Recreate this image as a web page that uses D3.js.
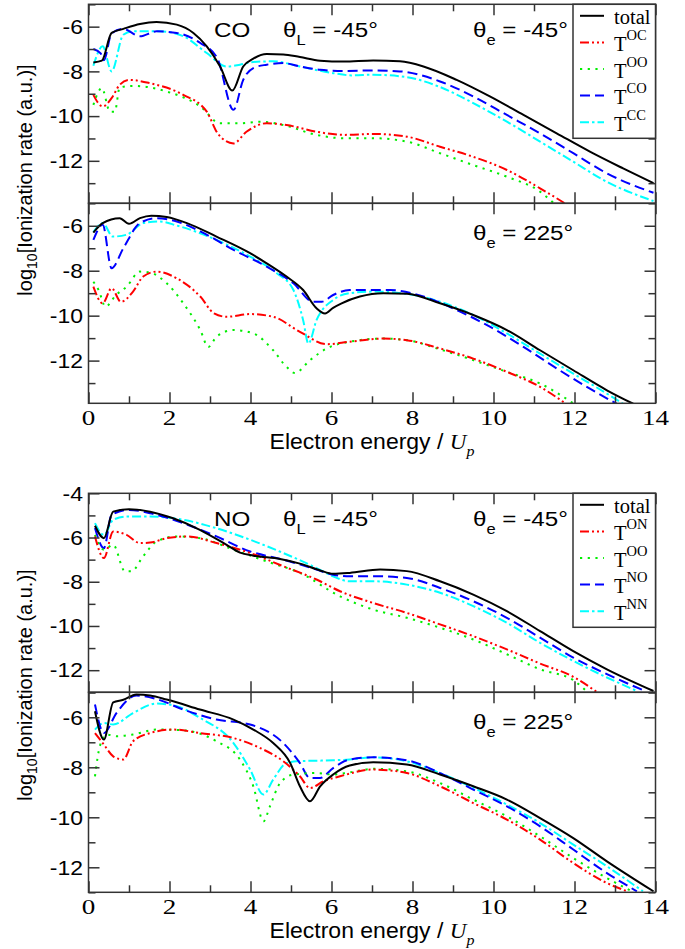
<!DOCTYPE html>
<html><head><meta charset="utf-8">
<script src="https://cdn.jsdelivr.net/npm/d3@7"></script>
<style>body{margin:0;background:#fff}svg{display:block}</style>
</head><body><svg id="c" width="685" height="949"></svg>
<script>
// ---------------- DATA ----------------
const xTicks = [0, 2, 4, 6, 8, 10, 12, 14];
const xMinor = [1, 3, 5, 7, 9, 11, 13];
const yTicksCO = [-12, -10, -8, -6];
const yMinorCO = [-13, -11, -9, -7, -5];
const yTicksNOtop = [-12, -10, -8, -6, -4];
const yTicksNObot = [-12, -10, -8, -6];
const yMinorNO = [-13, -11, -9, -7, -5];
const legendCO = ["total", "OC", "OO", "CO", "CC"];
const legendNO = ["total", "ON", "OO", "NO", "NN"];

// CO, theta_e = -45
const co1_total = [[0.12,-7.6],[0.33,-7.52],[0.57,-6.28],[0.86,-6.1],[1.27,-5.88],[1.68,-5.79],[2.18,-5.91],[2.59,-6.28],[2.92,-6.88],[3.25,-7.78],[3.55,-8.86],[3.82,-7.78],[4.07,-7.43],[4.4,-7.22],[4.81,-7.24],[5.22,-7.36],[5.72,-7.52],[6.3,-7.56],[7.03,-7.51],[7.69,-7.55],[8.27,-7.78],[9.09,-8.38],[9.91,-9.12],[10.74,-9.95],[11.56,-10.77],[12.38,-11.59],[13.2,-12.34],[13.95,-13.0]];
const co1_OC = [[0.12,-9.05],[0.35,-9.57],[0.57,-9.2],[0.77,-8.6],[1.0,-8.38],[1.5,-8.52],[2.34,-9.05],[2.92,-9.8],[3.2,-10.8],[3.58,-11.22],[3.9,-10.7],[4.4,-10.32],[4.89,-10.4],[5.63,-10.7],[6.3,-10.84],[7.03,-10.8],[7.86,-10.92],[8.68,-11.37],[9.5,-11.82],[10.33,-12.41],[11.15,-13.23],[11.85,-14.0]];
const co1_OO = [[0.12,-9.5],[0.33,-8.75],[0.53,-9.8],[0.65,-9.8],[0.77,-8.72],[1.1,-8.65],[1.93,-8.9],[2.76,-9.57],[3.25,-10.32],[3.74,-10.32],[4.24,-10.25],[4.81,-10.4],[5.63,-10.84],[6.3,-10.99],[7.03,-10.99],[7.86,-11.14],[8.68,-11.66],[9.5,-12.19],[10.33,-12.71],[11.15,-13.38],[11.55,-14.0]];
const co1_CO = [[0.12,-7.0],[0.3,-7.2],[0.38,-7.5],[0.57,-6.3],[0.86,-6.1],[1.27,-6.43],[1.68,-6.21],[2.18,-6.28],[2.76,-6.73],[3.18,-7.41],[3.58,-9.72],[3.82,-8.38],[4.07,-7.85],[4.4,-7.7],[4.81,-7.63],[5.22,-7.78],[5.72,-7.93],[6.3,-7.98],[7.03,-7.96],[7.69,-8.0],[8.68,-8.45],[9.5,-9.12],[10.33,-9.95],[11.15,-10.77],[11.97,-11.66],[12.8,-12.56],[13.95,-13.43]];
const co1_CC = [[0.12,-7.75],[0.35,-6.88],[0.57,-8.0],[0.86,-6.36],[1.1,-6.21],[1.76,-6.21],[2.34,-6.43],[2.92,-7.18],[3.41,-7.78],[3.74,-7.7],[4.07,-7.58],[4.56,-7.55],[5.22,-7.78],[6.04,-8.08],[6.5,-8.18],[7.03,-8.15],[7.86,-8.26],[8.68,-8.7],[9.5,-9.42],[10.33,-10.25],[11.15,-11.14],[11.97,-12.04],[12.8,-12.94],[13.95,-13.8]];

// CO, theta_e = 225
const co2_total = [[0.12,-6.3],[0.35,-5.88],[0.77,-5.66],[1.0,-5.91],[1.27,-5.66],[1.55,-5.55],[1.93,-5.61],[2.43,-5.88],[3.16,-6.48],[3.99,-7.22],[4.4,-7.67],[4.89,-8.26],[5.3,-8.86],[5.63,-9.67],[5.84,-9.9],[6.04,-9.65],[6.25,-9.45],[6.7,-9.15],[7.28,-9.0],[7.86,-9.03],[8.68,-9.45],[9.5,-9.97],[10.33,-10.64],[11.15,-11.54],[11.97,-12.43],[12.8,-13.32],[13.45,-13.92]];
const co2_OC = [[0.12,-8.71],[0.35,-9.45],[0.57,-8.78],[0.8,-9.38],[1.1,-8.93],[1.35,-8.26],[1.68,-8.04],[2.18,-8.34],[2.76,-9.15],[3.1,-9.9],[3.41,-10.05],[3.99,-9.93],[4.56,-10.05],[5.22,-10.72],[5.88,-11.27],[6.45,-11.16],[7.28,-11.02],[7.86,-11.09],[8.68,-11.46],[9.5,-11.91],[10.33,-12.5],[11.15,-13.17],[11.85,-14.0]];
const co2_OO = [[0.12,-8.49],[0.25,-8.86],[0.42,-9.6],[0.68,-9.08],[0.94,-8.71],[1.27,-8.04],[1.55,-8.1],[1.93,-8.56],[2.34,-9.45],[2.76,-10.64],[2.96,-11.39],[3.16,-10.94],[3.58,-10.64],[4.07,-10.79],[4.56,-11.54],[4.9,-12.3],[5.1,-12.55],[5.47,-11.98],[5.88,-11.46],[6.45,-11.16],[7.28,-11.02],[7.86,-11.09],[8.68,-11.5],[9.5,-11.98],[10.33,-12.5],[11.15,-13.02],[12.05,-14.0]];
const co2_CO = [[0.12,-6.63],[0.35,-5.96],[0.57,-7.89],[0.86,-7.0],[1.27,-5.88],[1.68,-5.66],[2.18,-5.81],[2.76,-6.25],[3.58,-7.07],[4.4,-7.82],[5.06,-8.56],[5.55,-9.38],[5.76,-9.38],[6.04,-9.08],[6.45,-8.86],[7.03,-8.86],[7.45,-8.86],[8.27,-9.15],[9.09,-9.75],[9.91,-10.49],[10.74,-11.39],[11.56,-12.35],[12.38,-13.25],[13.04,-13.92]];
const co2_CC = [[0.12,-6.28],[0.35,-5.88],[0.6,-6.48],[0.94,-6.4],[1.35,-5.88],[1.76,-5.81],[2.18,-5.99],[3.16,-6.63],[3.99,-7.37],[4.65,-8.11],[5.06,-8.86],[5.3,-10.2],[5.43,-11.24],[5.63,-10.2],[6.04,-9.3],[6.45,-9.0],[7.03,-8.93],[7.86,-9.03],[8.68,-9.38],[9.5,-9.97],[10.33,-10.79],[11.15,-11.69],[11.97,-12.58],[12.8,-13.47],[13.2,-13.92]];

// NO, theta_e = -45
const no1_total = [[0.16,-5.47],[0.38,-6.03],[0.61,-4.83],[1.0,-4.72],[1.52,-4.83],[2.09,-5.13],[2.75,-5.65],[3.41,-6.33],[3.74,-6.68],[4.07,-6.82],[4.73,-6.97],[5.22,-7.18],[5.72,-7.49],[6.04,-7.64],[6.45,-7.6],[7.2,-7.45],[7.86,-7.52],[8.68,-7.98],[9.5,-8.58],[10.33,-9.33],[11.15,-10.23],[11.97,-11.14],[12.8,-11.96],[13.95,-12.94]];
const no1_ON = [[0.16,-5.95],[0.38,-6.93],[0.61,-5.73],[0.94,-5.88],[1.27,-6.25],[1.52,-6.23],[1.93,-6.03],[2.43,-5.95],[3.16,-6.25],[3.99,-6.7],[4.81,-7.3],[5.63,-7.9],[6.21,-8.43],[7.03,-8.96],[7.86,-9.41],[8.68,-9.93],[9.5,-10.46],[10.33,-11.06],[11.15,-11.7],[11.97,-12.3],[12.6,-13.05]];
const no1_OO = [[0.16,-5.88],[0.38,-6.55],[0.61,-6.33],[0.9,-7.53],[1.06,-7.53],[1.35,-6.85],[1.68,-6.18],[2.18,-5.95],[2.76,-6.03],[3.58,-6.55],[4.4,-7.08],[5.22,-7.6],[6.21,-8.66],[7.03,-9.26],[7.86,-9.63],[8.68,-10.08],[9.5,-10.61],[10.33,-11.28],[11.15,-11.96],[11.97,-12.45],[12.35,-13.05]];
const no1_NO = [[0.16,-5.57],[0.38,-6.48],[0.57,-4.98],[1.0,-4.75],[1.52,-4.9],[2.34,-5.35],[3.16,-5.95],[3.99,-6.63],[4.81,-7.0],[5.63,-7.45],[6.04,-7.68],[6.45,-7.75],[7.03,-7.75],[7.86,-7.83],[8.68,-8.28],[9.5,-8.88],[10.33,-9.63],[11.15,-10.53],[11.97,-11.43],[12.8,-12.18],[13.74,-12.94]];
const no1_NN = [[0.16,-5.35],[0.38,-5.88],[0.61,-5.2],[0.94,-5.05],[1.52,-5.05],[2.34,-5.2],[3.16,-5.58],[3.99,-6.1],[4.81,-6.7],[5.63,-7.38],[6.04,-7.76],[6.45,-7.98],[7.03,-7.98],[7.86,-8.13],[8.68,-8.5],[9.5,-9.1],[10.33,-9.86],[11.15,-10.76],[11.97,-11.58],[12.8,-12.33],[13.54,-12.94]];

// NO, theta_e = 225
const no2_total = [[0.16,-5.76],[0.38,-6.89],[0.61,-5.4],[0.86,-5.3],[1.18,-5.09],[1.52,-5.13],[1.93,-5.29],[2.75,-5.69],[3.58,-6.09],[4.07,-6.49],[4.56,-7.03],[4.98,-7.83],[5.22,-8.76],[5.47,-9.36],[5.72,-8.76],[6.04,-8.29],[6.45,-7.93],[7.03,-7.8],[7.86,-7.89],[8.68,-8.29],[9.5,-8.76],[10.33,-9.29],[11.15,-10.03],[11.97,-10.83],[12.8,-11.76],[13.95,-12.96]];
const no2_ON = [[0.16,-6.63],[0.38,-7.09],[0.61,-7.56],[0.86,-7.69],[1.1,-6.96],[1.52,-6.63],[2.09,-6.49],[2.75,-6.63],[3.58,-6.83],[4.24,-7.23],[4.81,-7.76],[5.22,-8.36],[5.47,-8.83],[5.8,-8.56],[6.21,-8.36],[7.03,-8.09],[7.86,-8.23],[8.68,-8.76],[9.5,-9.43],[10.33,-10.09],[11.15,-10.89],[11.97,-11.83],[12.8,-12.63],[13.3,-12.96]];
const no2_OO = [[0.16,-8.36],[0.28,-7.16],[0.45,-6.69],[0.69,-6.76],[1.1,-6.69],[1.68,-6.49],[2.34,-6.52],[3.16,-6.96],[3.74,-7.69],[4.07,-8.76],[4.32,-10.16],[4.48,-9.56],[4.73,-8.63],[5.06,-8.29],[5.63,-8.23],[6.04,-8.29],[6.45,-8.2],[7.03,-8.06],[7.86,-8.16],[8.68,-8.63],[9.5,-9.29],[10.33,-9.96],[11.15,-10.76],[11.97,-11.63],[12.8,-12.43],[13.42,-12.96]];
const no2_NO = [[0.16,-5.49],[0.38,-6.63],[0.69,-5.83],[1.18,-5.13],[1.68,-5.27],[2.34,-5.69],[3.16,-6.09],[3.99,-6.29],[4.81,-7.03],[5.22,-7.83],[5.47,-8.43],[5.72,-8.43],[6.04,-8.03],[6.45,-7.69],[7.03,-7.6],[7.86,-7.72],[8.68,-8.23],[9.5,-8.89],[10.33,-9.56],[11.15,-10.36],[11.97,-11.29],[12.8,-12.23],[13.54,-12.96]];
const no2_NN = [[0.16,-6.49],[0.38,-6.23],[0.61,-6.29],[1.1,-5.83],[1.68,-5.45],[2.18,-5.56],[2.76,-6.03],[3.58,-7.03],[3.99,-8.09],[4.32,-9.09],[4.56,-8.49],[4.89,-7.83],[5.14,-7.76],[6.04,-7.72],[6.45,-7.69],[7.03,-7.6],[7.86,-7.76],[8.68,-8.23],[9.5,-8.82],[10.33,-9.49],[11.15,-10.23],[11.97,-11.09],[12.8,-11.96],[13.69,-12.96]];

// ---------------- STYLE ----------------
const styles = [
  {color: "#000000", dash: null},
  {color: "#ff0000", dash: "9,3,2,3,2,3"},
  {color: "#00ee00", dash: "2.2,5.5"},
  {color: "#0000ff", dash: "10,5"},
  {color: "#00ffff", dash: "9,3,2.5,3"}
];
const SANS = "'Liberation Sans', Arial, Helvetica, sans-serif";
const SERIF = "'Liberation Serif', 'Times New Roman', serif";
const AX = "#333";

const svg = d3.select("#c");
const X0 = 88.5, X1 = 655.5;
const x = d3.scaleLinear().domain([0, 14]).range([X0, X1]);

const panels = [
  {top: 4.3, bot: 203.3, dom: [-13.9, -5], major: yTicksCO, minor: yMinorCO, data: [co1_total, co1_OC, co1_OO, co1_CO, co1_CC], xlab: false, legend: legendCO, mol: "CO", te: "-45°"},
  {top: 203.3, bot: 403.3, dom: [-13.9, -5], major: yTicksCO, minor: yMinorCO, data: [co2_total, co2_OC, co2_OO, co2_CO, co2_CC], xlab: true, te: "225°"},
  {top: 493.3, bot: 692.3, dom: [-13, -4], major: yTicksNOtop, minor: yMinorNO, data: [no1_total, no1_ON, no1_OO, no1_NO, no1_NN], xlab: false, legend: legendNO, mol: "NO", te: "-45°"},
  {top: 692.3, bot: 892.3, dom: [-13, -5], major: yTicksNObot, minor: yMinorNO, data: [no2_total, no2_ON, no2_OO, no2_NO, no2_NN], xlab: true, te: "225°"}
];

function stext(g, px, py, sx, anchor, family, size) {
  return g.append("text")
    .attr("transform", `translate(${px},${py}) scale(${sx},1)`)
    .attr("text-anchor", anchor)
    .attr("font-family", family)
    .attr("font-size", size)
    .attr("fill", "#000");
}

panels.forEach((p, i) => {
  const y = d3.scaleLinear().domain(p.dom).range([p.bot, p.top]);
  const g = svg.append("g");
  const cid = "clip" + i;
  svg.append("defs").append("clipPath").attr("id", cid)
    .append("rect").attr("x", X0).attr("y", p.top).attr("width", X1 - X0).attr("height", p.bot - p.top);

  const line = d3.line().x(d => x(d[0])).y(d => y(d[1])).curve(d3.curveMonotoneX);
  const cg = g.append("g").attr("clip-path", `url(#${cid})`);
  [4, 3, 2, 1, 0].forEach(k => {
    cg.append("path").datum(p.data[k])
      .attr("d", line)
      .attr("fill", "none")
      .attr("stroke", styles[k].color)
      .attr("stroke-width", 2)
      .attr("stroke-dasharray", styles[k].dash)
      .attr("stroke-linejoin", "round");
  });

  const tk = (axis, tx, ty) => {
    g.append("g").attr("transform", `translate(${tx},${ty})`).call(axis)
      .call(s => s.select(".domain").remove())
      .call(s => s.selectAll("line").attr("stroke", AX).attr("stroke-width", 1.5));
  };
  tk(d3.axisLeft(y).tickValues(p.major).tickSize(-11).tickFormat(""), X0, 0);
  tk(d3.axisLeft(y).tickValues(p.minor).tickSize(-7).tickFormat(""), X0, 0);
  tk(d3.axisRight(y).tickValues(p.major).tickSize(-11).tickFormat(""), X1, 0);
  tk(d3.axisRight(y).tickValues(p.minor).tickSize(-7).tickFormat(""), X1, 0);
  tk(d3.axisTop(x).tickValues(xTicks).tickSize(-11).tickFormat(""), 0, p.top);
  tk(d3.axisTop(x).tickValues(xMinor).tickSize(-7).tickFormat(""), 0, p.top);
  tk(d3.axisBottom(x).tickValues(xTicks).tickSize(-11).tickFormat(""), 0, p.bot);
  tk(d3.axisBottom(x).tickValues(xMinor).tickSize(-7).tickFormat(""), 0, p.bot);

  g.append("rect").attr("x", X0).attr("y", p.top).attr("width", X1 - X0).attr("height", p.bot - p.top)
    .attr("fill", "none").attr("stroke", AX).attr("stroke-width", 1.5);

  p.major.forEach(v => {
    stext(g, 83, y(v) + 7.2, 1.12, "end", SANS, 20.5).text(String(v));
  });
  if (p.xlab) {
    xTicks.forEach(v => {
      stext(g, x(v), p.bot + 22, 1.32, "middle", SERIF, 20.5).text(String(v));
    });
    const t = stext(g, 372, p.bot + 45.5, 1.07, "middle", SANS, 21.5);
    t.append("tspan").text("Electron energy / ");
    t.append("tspan").attr("font-family", SERIF).attr("font-style", "italic").text("U");
    t.append("tspan").attr("font-family", SERIF).attr("font-style", "italic").attr("font-size", 15).attr("dy", 7).text("p");
  }

  if (p.mol) {
    stext(g, 214, p.top + 33, 1.18, "start", SANS, 20.5).text(p.mol);
    const tl = stext(g, 283, p.top + 33, 1.18, "start", SANS, 20.5);
    tl.append("tspan").text("θ");
    tl.append("tspan").attr("font-size", 14).attr("dy", 8).text("L");
    tl.append("tspan").attr("dy", -8).text(" = -45°");
  }
  const te = stext(g, 473, p.top + (p.mol ? 33 : 36.7), 1.18, "start", SANS, 20.5);
  te.append("tspan").text("θ");
  te.append("tspan").attr("font-size", 14).attr("dy", 8).text("e");
  te.append("tspan").attr("dy", -8).text(" = " + p.te);

  if (p.legend) {
    const lg = g.append("g");
    lg.append("rect").attr("x", 573).attr("y", p.top).attr("width", X1 - 573).attr("height", 134)
      .attr("fill", "#fff").attr("stroke", AX).attr("stroke-width", 1.5);
    p.legend.forEach((name, k) => {
      const ly = p.top + 11.5 + 26.6 * k;
      lg.append("line").attr("x1", 580).attr("x2", 604).attr("y1", ly).attr("y2", ly)
        .attr("stroke", styles[k].color).attr("stroke-width", 2)
        .attr("stroke-dasharray", styles[k].dash);
      const t = lg.append("text").attr("x", 614).attr("y", p.top + 20 + 26.6 * k)
        .attr("font-family", SERIF).attr("font-size", 20.5).attr("fill", "#000");
      if (k === 0) t.text(name);
      else {
        t.append("tspan").text("T");
        t.append("tspan").attr("font-size", 14.5).attr("dy", -11).text(name);
      }
    });
  }
});

[[180, 32], [685, 32]].forEach(([cy, cx]) => {
  const t = svg.append("text")
    .attr("transform", `translate(${cx},${cy}) rotate(-90)`)
    .attr("text-anchor", "middle").attr("font-family", SANS).attr("font-size", 20).attr("fill", "#000");
  t.append("tspan").text("log");
  t.append("tspan").attr("font-size", 14).attr("dy", 5).text("10");
  t.append("tspan").attr("dy", -5).text("[Ionization rate (a.u.)]");
});
</script></body></html>
